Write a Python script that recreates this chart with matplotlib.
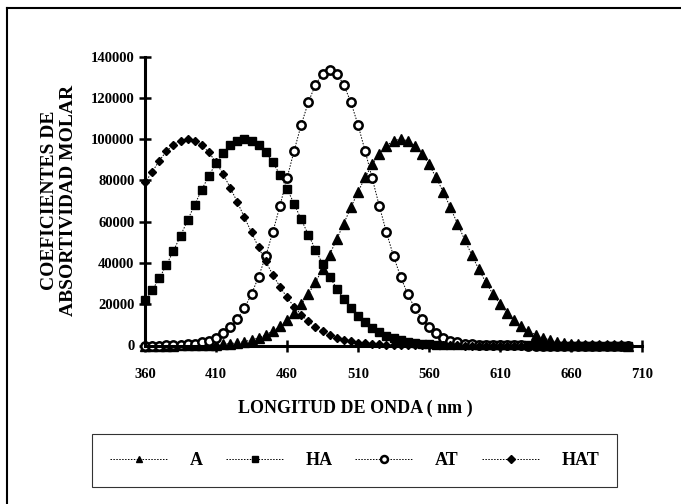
import numpy as np
import matplotlib
matplotlib.use("Agg")
import matplotlib.pyplot as plt
from matplotlib.lines import Line2D

# --- Data (5 nm steps) ---
wavelength = np.arange(360, 705, 5)

a_vals = [0, 0, 0, 0, 0, 100, 100, 100, 200, 300,
          400, 600, 900, 1300, 1900, 2700, 3700, 5200, 7000, 9300,
          12200, 15700, 20000, 24900, 30600, 37000, 44000, 51400, 59100, 66900,
          74400, 81400, 87700, 92900, 96800, 99200, 100000, 99200, 96800, 92900,
          87700, 81400, 74400, 66900, 59100, 51400, 44000, 37000, 30600, 24900,
          20000, 15700, 12200, 9300, 7000, 5200, 3700, 2700, 1900, 1300,
          900, 600, 400, 300, 200, 100, 100, 100, 0]

ha_vals = [22000, 26700, 32500, 38900, 45800, 53100, 60700, 68200, 75500, 82300,
           88300, 93200, 96900, 99200, 100000, 99300, 97100, 93600, 88700, 82800,
           76000, 68600, 61100, 53700, 46500, 39600, 33300, 27600, 22500, 18200,
           14400, 11200, 8600, 6500, 4800, 3500, 2500, 1800, 1200, 800,
           600, 400, 300, 200, 100, 100, 100, 100, 100, 100,
           100, 100, 100, 100, 100, 100, 0, 0, 0, 0,
           0, 0, 0, 0, 0, 0, 0, 0, 0]

at_vals = [0, 0, 0, 100, 200, 300, 500, 900, 1500, 2400,
           3800, 5900, 8800, 12800, 18100, 24900, 33300, 43300, 54900, 67600,
           81000, 94300, 106900, 117800, 126300, 131700, 133500, 131700, 126300, 117800,
           106900, 94300, 81000, 67600, 54900, 43300, 33300, 24900, 18100, 12800,
           8800, 5900, 3800, 2400, 1500, 900, 500, 300, 200, 100,
           100, 100, 100, 100, 0, 0, 0, 0, 0, 0,
           0, 0, 0, 0, 0, 0, 0, 0, 0]

hat_vals = [79000, 84000, 89500, 94000, 97300, 99300, 100000, 99300, 97100, 93500,
            88800, 83000, 76500, 69500, 62100, 54800, 47500, 40700, 34300, 28500,
            23300, 18800, 14900, 11700, 9000, 6800, 5100, 3800, 2700, 2000,
            1400, 1000, 700, 500, 300, 200, 200, 100, 100, 100,
            100, 100, 100, 100, 100, 0, 0, 0, 0, 0,
            0, 0, 0, 0, 0, 0, 0, 0, 0, 0,
            0, 0, 0, 0, 0, 0, 0, 0, 0]

x_ticks = [360, 410, 460, 510, 560, 610, 660, 710]
y_ticks = [0, 20000, 40000, 60000, 80000, 100000, 120000, 140000]

W, H = 681, 504
fig = plt.figure(figsize=(W / 100, H / 100), dpi=100)
fig.patch.set_facecolor("white")

serif = "Liberation Serif"

ax = fig.add_axes([145 / W, 1 - 345.5 / H, 497 / W, 289 / H])
ax.set_xlim(360, 710)
ax.set_ylim(0, 140000)

line_kw = dict(color="black", linestyle=(0, (1.5, 1.5)), linewidth=0.7, clip_on=False)
ax.plot(wavelength, a_vals, marker="^", markersize=6.5, markerfacecolor="black",
        markeredgecolor="black", label="A", **line_kw)
ax.plot(wavelength, ha_vals, marker="s", markersize=5.5, markerfacecolor="black",
        markeredgecolor="black", label="HA", **line_kw)
ax.plot(wavelength, at_vals, marker="o", markersize=6, markerfacecolor="white",
        markeredgecolor="black", markeredgewidth=1.8, label="AT", **line_kw)
ax.plot(wavelength, hat_vals, marker="D", markersize=4.5, markerfacecolor="black",
        markeredgecolor="black", label="HAT", **line_kw)

# axes: only left and bottom, heavy, with crossing ticks
for side in ("top", "right"):
    ax.spines[side].set_visible(False)
for side in ("left", "bottom"):
    ax.spines[side].set_linewidth(2.2)
ax.set_xticks(x_ticks)
ax.set_yticks(y_ticks)
ax.set_xticklabels([str(v) for v in x_ticks])
ax.set_yticklabels([str(v) for v in y_ticks])
ax.tick_params(axis="both", direction="inout", length=9, width=1.8, colors="black")
ax.tick_params(axis="x", pad=12)
ax.tick_params(axis="y", pad=3)
for lbl in ax.get_xticklabels() + ax.get_yticklabels():
    lbl.set_fontfamily(serif)
    lbl.set_fontweight("bold")
    lbl.set_fontsize(10.5)

fig.text(59 / W, 1 - 200 / H, "COEFICIENTES DE\nABSORTIVIDAD MOLAR", rotation=90,
         ha="center", va="center", fontsize=14, fontweight="bold", family=serif,
         linespacing=1.1, multialignment="center")
fig.text(355 / W, 1 - 408 / H, "LONGITUD DE ONDA ( nm )", ha="center", va="center",
         fontsize=13, fontweight="bold", family=serif)

leg = fig.legend(loc="lower left", bbox_to_anchor=(92 / W, 1 - 487 / H, 525 / W, 55 / H),
                 ncol=4, mode="expand", numpoints=1, handlelength=3.2, handletextpad=1.2,
                 borderaxespad=0, frameon=True, fancybox=False, borderpad=1.0,
                 prop=dict(family=serif, weight="bold", size=13))
leg.get_frame().set_edgecolor("black")
leg.get_frame().set_linewidth(0.8)
for h, ms in zip(leg.legend_handles, [5, 5, 5, 3.8]):
    h.set_markersize(ms)

# page border of the scan (top and left edges)
fig.add_artist(Line2D([7 / W, 1.0], [1 - 8 / H, 1 - 8 / H], transform=fig.transFigure,
                      color="black", linewidth=1.5))
fig.add_artist(Line2D([7 / W, 7 / W], [1 - 8 / H, 0.0], transform=fig.transFigure,
                      color="black", linewidth=1.5))

fig.savefig("out.png", dpi=100, facecolor="white")
